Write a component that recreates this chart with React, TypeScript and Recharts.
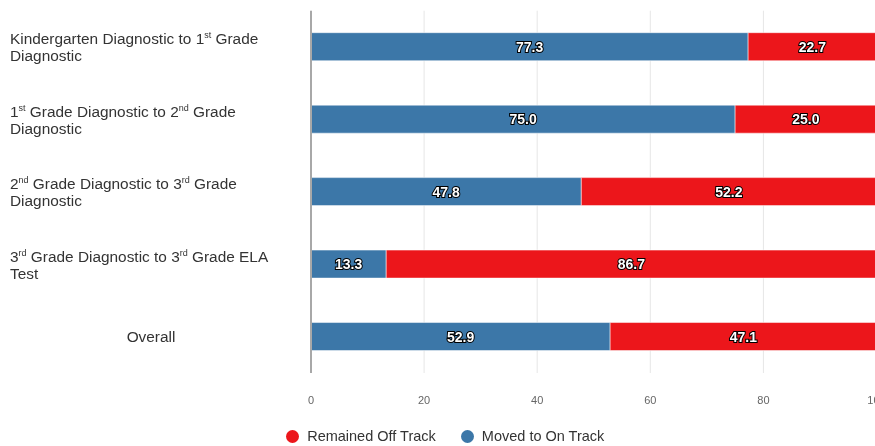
import { BarChart, Bar, XAxis, YAxis, CartesianGrid, Legend, LabelList } from 'recharts';

const categories = [
  'Kindergarten Diagnostic to 1st Grade\nDiagnostic',
  '1st Grade Diagnostic to 2nd Grade\nDiagnostic',
  '2nd Grade Diagnostic to 3rd Grade\nDiagnostic',
  '3rd Grade Diagnostic to 3rd Grade ELA\nTest',
  'Overall',
];
const movedOnTrack = [77.3, 75.0, 47.8, 13.3, 52.9];
const remainedOffTrack = [22.7, 25.0, 52.2, 86.7, 47.1];
const xTicks = [0, 20, 40, 60, 80, 100];

const BLUE = '#3c77a8';
const RED = '#ec161b';
const FONT = '"Liberation Sans", Arial, sans-serif';
const LABEL_SIZE = 15.4;

const data = categories.map((name, i) => ({
  name,
  moved: movedOnTrack[i],
  remained: remainedOffTrack[i],
}));

// split "1st" etc. into number + superscript suffix
const parseLine = (line: string) => {
  const out: { text: string; sup: boolean }[] = [];
  const re = /(\d)(st|nd|rd|th)\b/g;
  let last = 0;
  let m: RegExpExecArray | null;
  while ((m = re.exec(line))) {
    out.push({ text: line.slice(last, m.index) + m[1], sup: false });
    out.push({ text: m[2], sup: true });
    last = m.index + m[0].length;
  }
  out.push({ text: line.slice(last), sup: false });
  return out.filter((p) => p.text);
};

const CategoryTick = (props: any) => {
  const { y, payload } = props;
  const lines = String(payload.value).split('\n');
  if (lines.length === 1) {
    return (
      <text x={151} y={y + 5.4} textAnchor="middle" fontSize={LABEL_SIZE} fill="#333" fontFamily={FONT}>
        {lines[0]}
      </text>
    );
  }
  return (
    <g>
      {lines.map((line, li) => {
        const parts = parseLine(line);
        return (
          <text key={li} x={10} y={y - 2.6 + li * 17} fontSize={LABEL_SIZE} fill="#333" fontFamily={FONT}>
            {parts.map((p, i) => {
              const prevSup = i > 0 && parts[i - 1].sup;
              return (
                <tspan key={i} dy={p.sup ? -6 : prevSup ? 6 : 0} fontSize={p.sup ? 9 : LABEL_SIZE}>
                  {p.text}
                </tspan>
              );
            })}
          </text>
        );
      })}
    </g>
  );
};

const ValueLabel = (props: any) => {
  const { x, y, width, height, value } = props;
  return (
    <text
      x={x + width / 2}
      y={y + height / 2}
      textAnchor="middle"
      dominantBaseline="central"
      fontSize={14}
      fontWeight="bold"
      fontFamily={FONT}
      fill="#fff"
      stroke="#000"
      strokeWidth={2}
      paintOrder="stroke"
    >
      {Number(value).toFixed(1)}
    </text>
  );
};

const LegendContent = () => (
  <div
    style={{
      display: 'flex',
      justifyContent: 'center',
      alignItems: 'center',
      height: 20,
      fontFamily: FONT,
      fontSize: 14.5,
      color: '#333',
      paddingLeft: 39,
    }}
  >
    {[
      { label: 'Remained Off Track', color: RED },
      { label: 'Moved to On Track', color: BLUE },
    ].map((it) => (
      <div key={it.label} style={{ display: 'flex', alignItems: 'center', marginRight: 25 }}>
        <span
          style={{
            width: 13,
            height: 13,
            borderRadius: '50%',
            background: it.color,
            display: 'inline-block',
            marginRight: 8,
          }}
        />
        {it.label}
      </div>
    ))}
  </div>
);

export default function App() {
  return (
    <div style={{ width: 875, height: 446, overflow: 'hidden', position: 'fixed', left: 0, top: 0 }}>
      <style>{'html,body{margin:0;padding:0;overflow:hidden}'}</style>
      <BarChart
        width={888}
        height={446}
        data={data}
        layout="vertical"
        margin={{ top: 10.7, right: 11.5, left: 0, bottom: 0 }}
      >
        <CartesianGrid horizontal={false} stroke="#e6e6e6" />
        <XAxis
          type="number"
          domain={[0, 100]}
          ticks={xTicks}
          axisLine={false}
          tickLine={false}
          tickMargin={17}
          height={53}
          tick={{ fontSize: 11, fill: '#666', fontFamily: FONT }}
        />
        <YAxis
          type="category"
          dataKey="name"
          width={311}
          axisLine={{ stroke: '#a8a8a8', strokeWidth: 2 }}
          tickLine={false}
          tick={<CategoryTick />}
          interval={0}
        />
        <Legend verticalAlign="bottom" height={20} content={<LegendContent />} />
        <Bar
          dataKey="moved"
          name="Moved to On Track"
          stackId="a"
          fill={BLUE}
          barSize={28}
          stroke="#ffffff"
          strokeOpacity={0.5}
          isAnimationActive={false}
        >
          <LabelList dataKey="moved" content={<ValueLabel />} />
        </Bar>
        <Bar
          dataKey="remained"
          name="Remained Off Track"
          stackId="a"
          fill={RED}
          barSize={28}
          stroke="#ffffff"
          strokeOpacity={0.5}
          isAnimationActive={false}
        >
          <LabelList dataKey="remained" content={<ValueLabel />} />
        </Bar>
      </BarChart>
    </div>
  );
}
